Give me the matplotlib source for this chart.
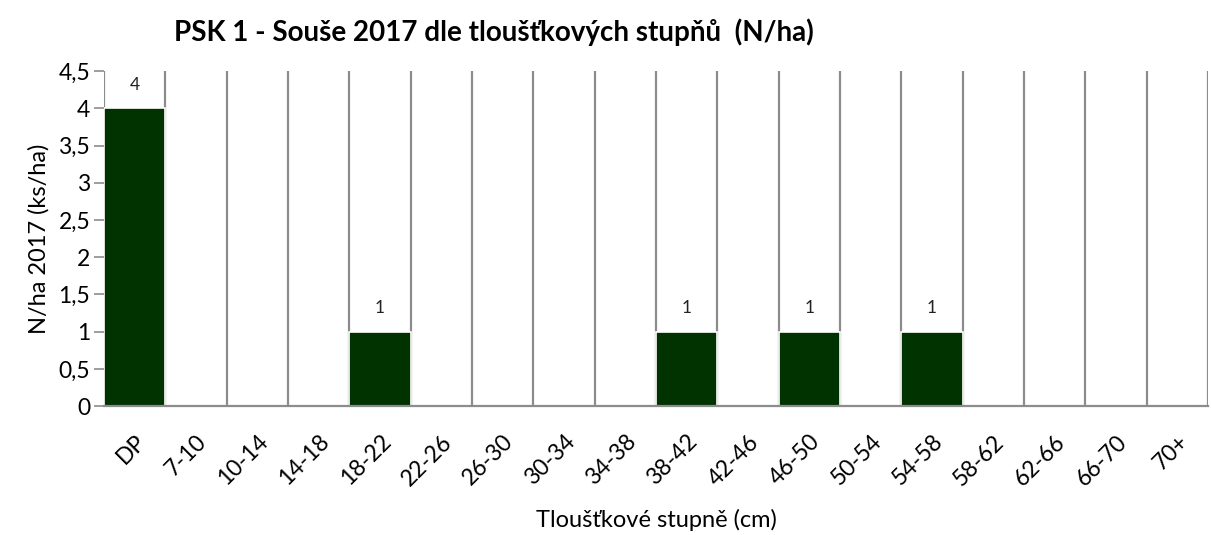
import matplotlib.pyplot as plt
import numpy as np

plt.rcParams['font.family'] = ['Lato', 'DejaVu Sans']

stupne = ['DP', '7-10', '10-14', '14-18', '18-22', '22-26', '26-30', '30-34', '34-38',
          '38-42', '42-46', '46-50', '50-54', '54-58', '58-62', '62-66', '66-70', '70+']
hodnoty = [4, 0, 0, 0, 1, 0, 0, 0, 0, 1, 0, 1, 0, 1, 0, 0, 0, 0]
yticky = [0, 0.5, 1, 1.5, 2, 2.5, 3, 3.5, 4, 4.5]
ytick_popisky = ['0', '0,5', '1', '1,5', '2', '2,5', '3', '3,5', '4', '4,5']

fig = plt.figure(figsize=(12.11, 5.35), dpi=100)
ax = fig.add_axes([0.0859, 0.241, 0.9116, 0.626])

x = np.arange(len(stupne))
bars = ax.bar(x, hodnoty, width=1.0, color='#003300', edgecolor='white', linewidth=1.2, zorder=3)

for xi, v in zip(x, hodnoty):
    if v > 0:
        ax.text(xi, v + 0.32, str(v), ha='center', va='center', fontsize=12.5, color='#222222')

ax.set_xlim(-0.5, len(stupne) - 0.5)
ax.set_ylim(0, 4.5)
ax.set_xticks(x)
ax.set_xticklabels(stupne, rotation=45, ha='right', rotation_mode='anchor', fontsize=16.5)
ax.set_xticks(np.arange(-0.5, len(stupne)), minor=True)
ax.tick_params(axis='x', which='both', length=0, pad=18)
ax.grid(axis='x', which='minor', color='#8c8c8c', linewidth=1.6, zorder=1)
ax.set_yticks(yticky)
ax.set_yticklabels(ytick_popisky, fontsize=16.5)
ax.tick_params(axis='y', length=7, color='#8c8c8c', width=1.2, pad=3)

for s in ['top', 'right', 'left']:
    ax.spines[s].set_visible(False)
ax.spines['bottom'].set_color('#8c8c8c')
ax.spines['bottom'].set_linewidth(1.6)
ax.spines['bottom'].set_zorder(4)

ax.set_ylabel('N/ha 2017 (ks/ha)', fontsize=17, labelpad=6)
ax.set_xlabel('Tloušťkové stupně (cm)', fontsize=17, labelpad=14)
fig.text(0.408, 0.94, 'PSK 1 - Souše 2017 dle tloušťkových stupňů  (N/ha)',
         ha='center', va='center', fontsize=20, fontweight='bold')

fig.savefig('out.png', dpi=100)
